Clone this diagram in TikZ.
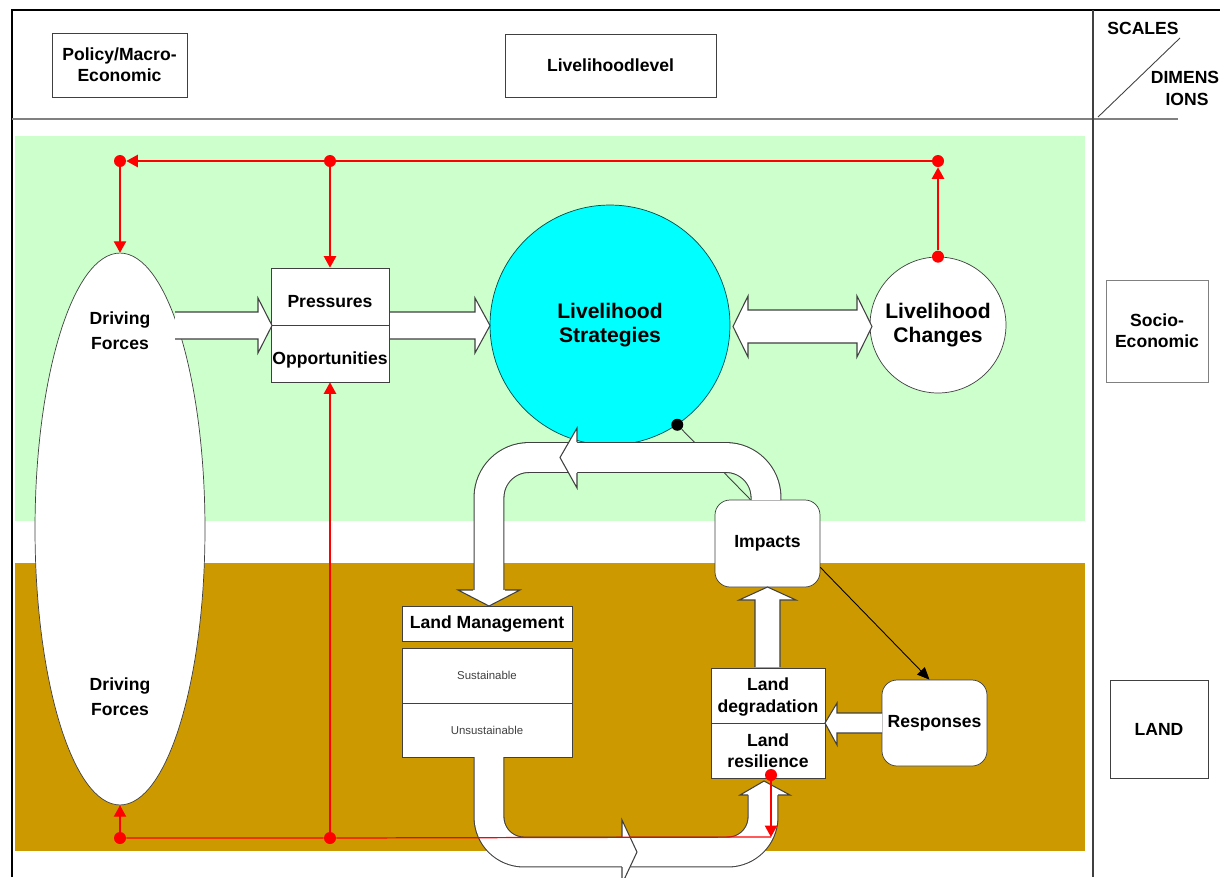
\documentclass[tikz,border=0pt]{standalone}
\usepackage{fontspec}
\setmainfont{Liberation Sans}
\usepackage{tikz}
\usetikzlibrary{arrows.meta,shapes.geometric}

\definecolor{paleGreen}{HTML}{CCFFCC}
\definecolor{soilBrown}{HTML}{CC9900}
\definecolor{aqua}{HTML}{00FFFF}
\definecolor{outline}{HTML}{404040}

\tikzset{
  box/.style={draw=outline, fill=white, font=\bfseries, align=center, inner sep=0pt},
  lowbox/.style={box, text height=13pt, text depth=0pt},
  rbox/.style={box, rounded corners=0.3cm},
  redline/.style={red, line width=0.7pt},
  redtip/.style={-{Triangle[width=7pt,length=6.5pt]}},
  reddot/.style={circle, fill=red, inner sep=0pt, minimum size=0.24cm},
  blk/.style={draw=outline, fill=white, line width=0.6pt},
  band/.style={draw=outline, line width=0.6pt, double=white, double distance=16.4pt},
}

\begin{document}
\begin{tikzpicture}[x=0.02cm, y=-0.02cm]
\useasboundingbox (0,0) rectangle (1228,877);
%%%%% Background %%%%%
\fill[paleGreen] (15,136) rectangle (1085,521);
\fill[soilBrown] (15,563) rectangle (1085,851);
\draw[black, line width=0.6pt] (12,877) -- (12,10) -- (1220,10);
\draw[gray, line width=1.2pt] (12,119) -- (1178,119);
\draw[outline, line width=0.6pt] (1093,10) -- (1093,877);
\draw[outline, line width=0.5pt] (1098,117) -- (1180,38);
\node[font=\bfseries] (scales) at (1143,28) {SCALES};
\node[font=\bfseries] (dimA) at (1185,77) {DIMENS};
\node[font=\bfseries] (dimB) at (1187,99) {IONS};

%%%%% Scale boxes %%%%%
\node[box, minimum width=2.7cm, minimum height=1.28cm] (policy) at (119.5,65) {Policy/Macro-\\Economic};
\node[box, minimum width=4.22cm, minimum height=1.26cm] (level) at (610.5,65.5) {Livelihoodlevel};
\node[box, draw=gray, minimum width=2.04cm, minimum height=2.04cm] (socio) at (1157,331) {Socio-\\Economic};
\node[box, minimum width=1.96cm, minimum height=1.96cm] (land) at (1159,729) {LAND};

%%%%% Main nodes %%%%%
\node[ellipse, draw=outline, fill=white, minimum width=3.4cm, minimum height=11.04cm, inner sep=0pt] (df) at (120,529) {};
\node[font=\bfseries, align=center] (dfup) at (120,331) {Driving\\[2pt]Forces};
\node[font=\bfseries, align=center] (dflow) at (120,697) {Driving\\[2pt]Forces};
\node[lowbox, minimum width=2.36cm, minimum height=1.14cm] (pres) at (330,296.5) {Pressures};
\node[lowbox, minimum width=2.36cm, minimum height=1.14cm] (opp) at (330,353.5) {Opportunities};
\node[circle, draw=teal!60!black, fill=aqua, minimum size=4.8cm, font=\large\bfseries, align=center] (lhs) at (610,325) {Livelihood\\Strategies};
\node[circle, draw=outline, fill=white, minimum size=2.72cm, font=\large\bfseries, align=center] (lc) at (938,325) {Livelihood\\Changes};
\node[box, minimum width=3.4cm, minimum height=0.7cm] (lm) at (487,623.5) {Land Management};
\node[box, font=\mdseries\fontsize{6.5}{8}\selectfont, text=darkgray, minimum width=3.4cm, minimum height=1.1cm] (sus) at (487,675.5) {Sustainable};
\node[box, font=\mdseries\fontsize{6.5}{8}\selectfont, text=darkgray, minimum width=3.4cm, minimum height=1.08cm] (uns) at (487,730) {Unsustainable};
\node[rbox, minimum width=2.1cm, minimum height=1.74cm] (imp) at (767.5,543.5) {Impacts};
\node[box, minimum width=2.28cm, minimum height=1.16cm] (deg) at (768,697) {Land\\degradation};
\node[box, minimum width=2.28cm, minimum height=1.1cm] (res) at (768,751) {Land\\resilience};
\node[rbox, minimum width=2.1cm, minimum height=1.72cm] (resp) at (934.5,723) {Responses};

%%%%% Thin links %%%%%
\node[circle, fill=black, inner sep=0pt, minimum size=0.24cm] (bdot) at (lhs.-56) {};
\draw[outline, line width=0.5pt] (bdot) -- ([xshift=-0.34cm]imp.north);
\draw[line width=0.5pt, -{Triangle[width=6pt,length=7pt]}] ([yshift=0.4cm]imp.south east) -- ([xshift=-0.1cm]resp.north);

%%%%% Bent block arrows %%%%%
\draw[band, rounded corners=0.8cm] (766,500) -- (766,457.5) -- (489,457.5) -- (489,590);
\path[blk] (473,590) -- (458,590) -- (489,606) -- (520,590) -- (505,590);
\path[blk] (577,442) -- (577,428) -- (560,457.5) -- (577,488) -- (577,473);
\draw[band, rounded corners=0.7cm] (489,757) -- (489,852) -- (763,852) -- (763,795);
\path[blk] (748,795) -- (740,795) -- (764,781) -- (790,795) -- (778,795);
\path[blk] (622,837) -- (622,820) -- (637,852) -- (622,884) -- (622,867);

%%%%% Straight block arrows %%%%%
\path[blk] (175,312) -- (258,312) -- (258,298) -- (272,325.5) -- (258,353) -- (258,339) -- (175,339);
\path[blk] (390,312) -- (475,312) -- (475,298) -- (490,325.5) -- (475,353) -- (475,339) -- (390,339);
\path[blk] (733,326.5) -- (748,296) -- (748,310) -- (857,310) -- (857,296) -- (872,326.5) -- (857,357) -- (857,343) -- (748,343) -- (748,357) -- cycle;
\path[blk] (755,667) -- (755,600) -- (739,600) -- (767.5,587) -- (796,600) -- (780,600) -- (780,667);
\path[blk] (882,713) -- (837,713) -- (837,703) -- (825,723) -- (837,745) -- (837,733) -- (882,733);

%%%%% Red feedback lines %%%%%
\node[reddot] (j1) at (120,161) {};
\node[reddot] (j2) at (330,161) {};
\node[reddot] (j3) at (938,161) {};
\node[reddot] (lcdot) at (lc.north) {};
\node[reddot] (b1) at (120,838) {};
\node[reddot] (b2) at (330,838) {};
\node[reddot] (resdot) at (771,775) {};
\coordinate (bend) at (771,837);
\draw[redline, redtip] (lcdot) -- (j3);
\draw[redline, redtip] (j3) -- (j2) -- (j1);
\draw[redline, redtip] (j1) -- (df.north);
\draw[redline, redtip] (j2) -- (pres.north);
\draw[redline, redtip] (resdot) -- (bend);
\draw[redline] (bend) -- (b2) -- (b1);
\draw[redline, redtip] (b1) -- (df.south);
\draw[redline, redtip] (b2) -- (opp.south);
\end{tikzpicture}
\end{document}
